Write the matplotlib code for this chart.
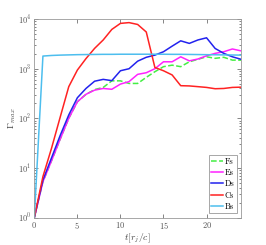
import matplotlib
matplotlib.use('Agg')
import matplotlib.pyplot as plt
import numpy as np

plt.rcParams['font.family'] = 'serif'
plt.rcParams['font.serif'] = ['cmr10', 'DejaVu Serif']
plt.rcParams['mathtext.fontset'] = 'cm'
plt.rcParams['axes.formatter.use_mathtext'] = True

# время t [r_j/c]
t = list(range(0, 25))

Bs = [1, 1800, 1850, 1880, 1900, 1920, 1930, 1940, 1950, 1950, 1960, 1960, 1960, 1960,
      1960, 1960, 1950, 1950, 1940, 1930, 1920, 1910, 1900, 1890, 1880]
Cs = [1, 6.7, 25, 105, 435, 940, 1600, 2570, 3800, 6200, 8200, 8500, 7800, 5500,
      1060, 910, 750, 455, 450, 435, 420, 395, 400, 420, 425]
Ds = [1, 5.7, 16, 45, 117, 260, 400, 560, 610, 575, 910, 1000, 1420, 1700,
      1880, 2200, 2850, 3650, 3240, 3800, 4200, 2560, 2040, 1740, 1550]
Es = [1, 5.3, 14, 38, 100, 216, 305, 370, 400, 385, 490, 550, 770, 830,
      1000, 1380, 1380, 1740, 1440, 1570, 1820, 2040, 2200, 2500, 2290]
Fs = [1, 5.3, 14, 38, 100, 216, 305, 380, 420, 570, 570, 505, 505, 670,
      870, 1100, 1180, 1100, 1380, 1550, 1740, 1620, 1700, 1490, 1490]

fig = plt.figure(figsize=(2.66, 2.45), dpi=100)
ax = fig.add_axes([0.129, 0.112, 0.777, 0.81])

ax.plot(t, Fs, '--', color='#44ee44', lw=1.1, label='Fs')
ax.plot(t, Es, '-', color='#ff22ff', lw=1.1, label='Es')
ax.plot(t, Ds, '-', color='#2222ee', lw=1.1, label='Ds')
ax.plot(t, Cs, '-', color='#ff2222', lw=1.1, label='Cs')
ax.plot(t, Bs, '-', color='#4dbeee', lw=1.1, label='Bs')

ax.set_yscale('log')
ax.set_xlim(0, 24)
ax.set_ylim(1, 1e4)
ax.set_xticks([0, 5, 10, 15, 20])

for s in ax.spines.values():
    s.set_color('#999999')
    s.set_linewidth(0.6)
ax.tick_params(which='both', direction='in', top=True, right=True,
               colors='#555555', labelsize=6, width=0.5, pad=2)
ax.tick_params(which='major', length=3)
ax.tick_params(which='minor', length=1.5)

ax.set_xlabel(r'$t[r_j/c]$', fontsize=7, color='#444444', labelpad=0)
ax.set_ylabel(r'$\Gamma_{max}$', fontsize=7, color='#444444', labelpad=0)

leg = ax.legend(loc='lower right', fontsize=6, handlelength=1.4, handletextpad=0.2,
                borderpad=0.3, labelspacing=0.35, fancybox=False, framealpha=1)
leg.get_frame().set_edgecolor('#999999')
leg.get_frame().set_linewidth(0.6)

fig.savefig('out.png', dpi=100)
